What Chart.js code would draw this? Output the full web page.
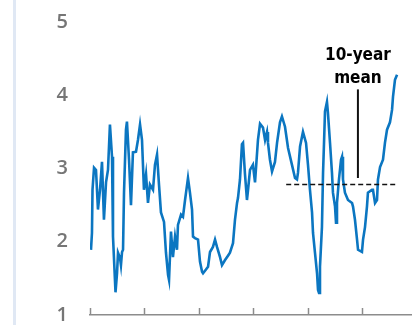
<!DOCTYPE html>
<html>
<head>
<meta charset="utf-8">
<script src="https://cdn.jsdelivr.net/npm/chart.js@4.4.1/dist/chart.umd.min.js"></script>
<style>
  html, body { margin: 0; padding: 0; background: #ffffff; }
  #wrap { position: relative; width: 417px; height: 325px; }
</style>
</head>
<body>
<div id="wrap"><canvas id="chart" width="417" height="325"></canvas></div>
<script>
// Observation dates (decimal years) and yield readings, %
const years = [
  1990.09, 1990.18, 1990.23, 1990.37, 1990.55, 1990.73, 1990.92, 1991.10, 1991.28, 1991.47,
  1991.65, 1991.83, 1992.02, 1992.11, 1992.34, 1992.48, 1992.57, 1992.75, 1992.84, 1992.94,
  1993.03, 1993.12, 1993.30, 1993.39, 1993.58, 1993.76, 1993.94, 1994.22, 1994.40, 1994.59,
  1994.77, 1994.95, 1995.14, 1995.32, 1995.50, 1995.78, 1995.96, 1996.15, 1996.33, 1996.51,
  1996.79, 1996.97, 1997.16, 1997.25, 1997.43, 1997.61, 1997.80, 1997.98, 1998.07, 1998.35,
  1998.53, 1998.72, 1998.81, 1998.99, 1999.17, 1999.36, 1999.45, 1999.63, 1999.91, 2000.09,
  2000.28, 2000.37, 2000.64, 2000.83, 2001.01, 2001.28, 2001.47, 2001.65, 2001.93, 2002.11,
  2002.39, 2002.66, 2002.84, 2003.12, 2003.30, 2003.49, 2003.58, 2003.76, 2003.94, 2004.04,
  2004.22, 2004.40, 2004.50, 2004.68, 2004.95, 2005.14, 2005.41, 2005.60, 2005.87, 2006.06,
  2006.24, 2006.33, 2006.51, 2006.70, 2006.97, 2007.16, 2007.43, 2007.61, 2007.89, 2008.17,
  2008.53, 2008.81, 2008.99, 2009.08, 2009.27, 2009.54, 2009.82, 2010.00, 2010.18, 2010.37,
  2010.46, 2010.64, 2010.83, 2010.92, 2011.01, 2011.10, 2011.28, 2011.38, 2011.47, 2011.56,
  2011.74, 2011.83, 2012.02, 2012.20, 2012.29, 2012.48, 2012.57, 2012.66, 2012.84, 2013.03,
  2013.12, 2013.21, 2013.39, 2013.67, 2014.04, 2014.13, 2014.31, 2014.50, 2014.59, 2014.95,
  2015.05, 2015.23, 2015.41, 2015.50, 2015.87, 2015.96, 2016.15, 2016.33, 2016.42, 2016.61,
  2016.88, 2017.06, 2017.25, 2017.52, 2017.71, 2017.80, 2017.98, 2018.17
];
const yields = [
  1.89, 2.12, 2.71, 3.01, 2.98, 2.44, 2.71, 3.09, 2.30, 2.81,
  2.98, 3.60, 3.16, 2.07, 1.31, 1.57, 1.85, 1.78, 1.68, 1.86,
  1.89, 2.67, 3.53, 3.64, 3.12, 2.50, 3.22, 3.23, 3.39, 3.60,
  3.39, 2.71, 2.92, 2.53, 2.78, 2.71, 3.05, 3.19, 2.78, 2.40,
  2.27, 1.85, 1.55, 1.48, 2.14, 1.79, 2.07, 1.89, 2.23, 2.37,
  2.34, 2.57, 2.67, 2.87, 2.67, 2.44, 2.07, 2.05, 2.03, 1.73,
  1.59, 1.57, 1.62, 1.66, 1.86, 1.93, 2.03, 1.93, 1.79, 1.68,
  1.75, 1.81, 1.85, 1.98, 2.30, 2.53, 2.60, 2.85, 3.33, 3.35,
  2.92, 2.57, 2.71, 2.98, 3.05, 2.81, 3.39, 3.61, 3.56, 3.39,
  3.50, 3.35, 3.12, 2.96, 3.09, 3.35, 3.63, 3.71, 3.57, 3.28,
  3.05, 2.87, 2.85, 2.94, 3.30, 3.50, 3.35, 3.05, 2.71, 2.40,
  2.12, 1.85, 1.57, 1.34, 1.30, 1.66, 2.20, 2.94, 3.35, 3.78,
  3.91, 3.76, 3.35, 2.94, 2.67, 2.48, 2.26, 2.53, 2.85, 3.12,
  3.16, 2.85, 2.67, 2.57, 2.53, 2.48, 2.30, 2.03, 1.89, 1.86,
  2.03, 2.20, 2.48, 2.67, 2.71, 2.71, 2.53, 2.57, 2.85, 3.02,
  3.12, 3.35, 3.53, 3.63, 3.80, 3.98, 4.21, 4.28
];

// Ten-year average over the final decade
const meanStart = 2008.0;
const meanEnd = 2018.17;
const meanValue = 2.78;

// Callout: pointer line and its two-line label
const calloutYear = 2014.58;
const calloutFrom = 2.87;
const calloutTo = 4.08;
const calloutLines = ['10-year', 'mean'];
const calloutBaselines = [4.48, 4.17];

// Axis ticks
const yTicks = [1, 2, 3, 4, 5];
const xTicks = [1990, 1995, 2000, 2005, 2010, 2015];
const xMin = 1990;
const xMax = 2019.45;

const seriesPoints = years.map((y, i) => ({ x: y, y: yields[i] }));

const decorations = {
  id: 'decorations',
  beforeDraw(chart) {
    const ctx = chart.ctx;
    ctx.save();
    // pale rule down the left edge of the panel
    ctx.fillStyle = '#e0e8f4';
    ctx.fillRect(13, 0, 3, chart.height);
    ctx.restore();
  },
  afterDraw(chart) {
    const ctx = chart.ctx;
    const xs = chart.scales.x;
    const ys = chart.scales.y;
    ctx.save();
    // inward tick marks on the time axis
    ctx.strokeStyle = '#8c8c8c';
    ctx.lineWidth = 1.5;
    const base = ys.getPixelForValue(1);
    xTicks.forEach(t => {
      const px = Math.round(xs.getPixelForValue(t)) + 0.5;
      ctx.beginPath();
      ctx.moveTo(px, base);
      ctx.lineTo(px, base - 7);
      ctx.stroke();
    });
    // callout label
    ctx.fillStyle = '#000000';
    ctx.font = 'bold 17px "DejaVu Sans Condensed", "DejaVu Sans", sans-serif';
    ctx.textAlign = 'center';
    ctx.textBaseline = 'alphabetic';
    const cx = xs.getPixelForValue(calloutYear);
    calloutLines.forEach((txt, i) => {
      ctx.fillText(txt, cx, ys.getPixelForValue(calloutBaselines[i]));
    });
    ctx.restore();
  }
};

new Chart(document.getElementById('chart'), {
  type: 'line',
  data: {
    datasets: [
      {
        label: 'Yield',
        data: seriesPoints,
        borderColor: '#0b76c1',
        borderWidth: 2.6,
        pointRadius: 0,
        tension: 0,
        fill: false,
        borderJoinStyle: 'miter',
        order: 1
      },
      {
        label: '10-year mean',
        data: [{ x: meanStart, y: meanValue }, { x: meanEnd, y: meanValue }],
        borderColor: '#111111',
        borderWidth: 1.5,
        borderDash: [5, 3],
        pointRadius: 0,
        fill: false,
        order: 0
      },
      {
        label: 'pointer',
        data: [{ x: calloutYear, y: calloutFrom }, { x: calloutYear, y: calloutTo }],
        borderColor: '#111111',
        borderWidth: 2,
        pointRadius: 0,
        fill: false,
        order: 0
      }
    ]
  },
  options: {
    responsive: false,
    animation: false,
    layout: { padding: { top: 22, right: 6, left: 0, bottom: 0 } },
    plugins: {
      legend: { display: false },
      tooltip: { enabled: false }
    },
    scales: {
      x: {
        type: 'linear',
        min: xMin,
        max: xMax,
        afterBuildTicks(scale) { scale.ticks = xTicks.map(v => ({ value: v })); },
        afterFit(scale) { scale.height = 10; },
        ticks: { display: false },
        grid: { display: false, drawTicks: false },
        border: { display: true, color: '#8c8c8c', width: 1.5 }
      },
      y: {
        type: 'linear',
        min: 1,
        max: 5,
        afterBuildTicks(scale) { scale.ticks = yTicks.map(v => ({ value: v })); },
        afterFit(scale) {
          scale.width = 90;
          scale.paddingTop = 0;
          scale.paddingBottom = 0;
        },
        ticks: {
          color: '#767676',
          padding: 22,
          font: { family: '"Open Sans", sans-serif', size: 20, weight: '600' }
        },
        grid: { display: false, drawTicks: false },
        border: { display: false }
      }
    }
  },
  plugins: [decorations]
});
</script>
</body>
</html>
